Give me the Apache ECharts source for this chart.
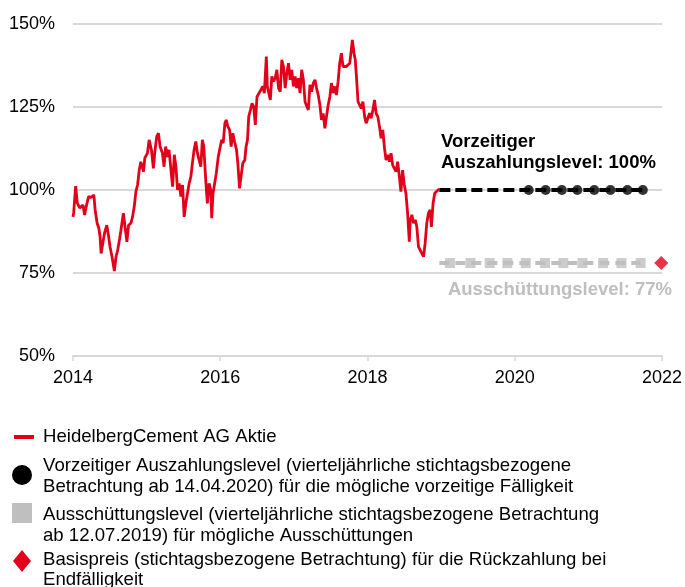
<!DOCTYPE html>
<html>
<head>
<meta charset="utf-8">
<script src="https://cdn.jsdelivr.net/npm/echarts@6/dist/echarts.min.js"></script>
<style>
  html, body { margin: 0; padding: 0; background: #fff; }
  #chart { width: 685px; height: 587px; }
</style>
</head>
<body>
<div id="chart"></div>
<script>
// Kursverlauf HeidelbergCement (in % vom Startwert), Zeit als Dezimaljahr
const priceDates = [
  2014.000, 2014.009, 2014.036, 2014.058, 2014.090, 2014.112, 2014.135, 2014.158, 2014.179, 2014.212,
  2014.247, 2014.283, 2014.301, 2014.328, 2014.351, 2014.368, 2014.382, 2014.405, 2014.428, 2014.459,
  2014.481, 2014.503, 2014.530, 2014.562, 2014.584, 2014.607, 2014.634, 2014.651, 2014.684, 2014.705,
  2014.732, 2014.755, 2014.786, 2014.809, 2014.832, 2014.854, 2014.877, 2014.900, 2014.921, 2014.958,
  2014.975, 2015.011, 2015.034, 2015.065, 2015.092, 2015.110, 2015.137, 2015.160, 2015.183, 2015.214,
  2015.237, 2015.258, 2015.281, 2015.304, 2015.331, 2015.353, 2015.376, 2015.398, 2015.420, 2015.443,
  2015.466, 2015.488, 2015.510, 2015.533, 2015.555, 2015.578, 2015.601, 2015.622, 2015.645, 2015.668,
  2015.690, 2015.713, 2015.736, 2015.757, 2015.776, 2015.803, 2015.825, 2015.848, 2015.871, 2015.884,
  2015.902, 2015.924, 2015.946, 2015.973, 2015.992, 2016.019, 2016.040, 2016.063, 2016.081, 2016.104,
  2016.127, 2016.148, 2016.171, 2016.194, 2016.221, 2016.239, 2016.262, 2016.283, 2016.306, 2016.333,
  2016.351, 2016.370, 2016.387, 2016.410, 2016.432, 2016.454, 2016.477, 2016.499, 2016.522, 2016.553,
  2016.576, 2016.599, 2016.626, 2016.639, 2016.680, 2016.701, 2016.724, 2016.747, 2016.769, 2016.792,
  2016.815, 2016.836, 2016.859, 2016.882, 2016.904, 2016.927, 2016.949, 2016.971, 2016.994, 2017.017,
  2017.038, 2017.061, 2017.084, 2017.106, 2017.129, 2017.152, 2017.173, 2017.196, 2017.219, 2017.241,
  2017.264, 2017.287, 2017.308, 2017.331, 2017.354, 2017.375, 2017.398, 2017.421, 2017.443, 2017.466,
  2017.489, 2017.510, 2017.533, 2017.556, 2017.578, 2017.601, 2017.623, 2017.645, 2017.668, 2017.691,
  2017.713, 2017.736, 2017.759, 2017.780, 2017.794, 2017.817, 2017.834, 2017.853, 2017.871, 2017.894,
  2017.915, 2017.938, 2017.961, 2017.982, 2018.005, 2018.028, 2018.050, 2018.073, 2018.096, 2018.117,
  2018.140, 2018.163, 2018.185, 2018.208, 2018.231, 2018.252, 2018.275, 2018.298, 2018.320, 2018.342,
  2018.365, 2018.387, 2018.410, 2018.433, 2018.454, 2018.477, 2018.500, 2018.522, 2018.545, 2018.568,
  2018.581, 2018.603, 2018.626, 2018.649, 2018.670, 2018.693, 2018.716, 2018.738, 2018.761, 2018.783,
  2018.805, 2018.828, 2018.851, 2018.868, 2018.891, 2018.913, 2018.940, 2018.959, 2018.976
];
const priceValues = [
  91.9, 93.1, 101.2, 96.1, 94.6, 94.0, 95.5, 92.5, 95.0, 98.0,
  97.8, 98.5, 94.0, 90.0, 88.5, 85.9, 80.9, 84.0, 87.0, 89.4,
  86.4, 82.9, 79.9, 75.6, 79.9, 81.9, 85.4, 87.9, 93.0, 93.5,
  84.4, 89.4, 90.0, 91.9, 95.0, 99.5, 101.5, 106.0, 108.5, 105.5,
  109.6, 111.1, 115.1, 112.1, 106.5, 111.1, 116.1, 117.1, 113.1, 111.1,
  107.0, 113.1, 110.0, 112.1, 111.6, 101.0, 110.6, 107.0, 100.0, 102.0,
  98.0, 101.5, 91.9, 96.0, 95.5, 102.0, 104.0, 108.1, 112.1, 114.6,
  111.1, 109.0, 107.0, 115.1, 113.1, 103.0, 96.0, 102.0, 100.0, 91.5,
  99.0, 102.0, 105.0, 110.0, 112.1, 115.1, 114.1, 120.1, 121.1, 119.1,
  118.1, 113.1, 117.1, 114.6, 112.1, 108.1, 100.5, 101.0, 108.1, 109.0,
  113.1, 115.1, 122.1, 124.1, 126.1, 125.1, 119.6, 128.1, 128.6, 130.2,
  131.2, 129.2, 140.2, 131.2, 127.1, 134.2, 132.7, 133.7, 136.2, 130.7,
  129.6, 139.2, 137.2, 130.7, 135.2, 138.2, 133.2, 136.2, 131.2, 134.2,
  130.7, 133.7, 129.2, 136.2, 133.2, 126.6, 127.1, 124.1, 131.7, 129.6,
  132.2, 133.2, 130.7, 128.6, 125.6, 121.1, 123.1, 118.6, 122.1, 125.6,
  128.1, 132.2, 129.2, 131.2, 128.6, 132.7, 138.2, 141.2, 137.2, 136.7,
  137.2, 137.7, 138.2, 142.2, 145.2, 141.2, 139.2, 133.2, 126.6, 127.1,
  124.6, 126.6, 122.1, 120.1, 120.6, 123.1, 121.6, 124.1, 127.1, 123.1,
  122.1, 119.1, 115.6, 118.1, 112.6, 109.0, 110.6, 108.5, 111.1, 107.5,
  108.1, 105.5, 108.5, 104.0, 99.5, 106.0, 101.5, 99.0, 93.0, 84.4,
  91.0, 92.5, 90.0, 91.0, 88.9, 82.9, 81.9, 80.9, 79.9, 83.9,
  90.0, 93.0, 94.0, 88.9, 96.0, 99.0, 98.5, 100.0, 100.2
];

// Vorzeitiger Auszahlungslevel
const autocallLevel = 100;
const autocallLineDates = [2018.976, 2021.74];
const autocallObsDates = [2020.19, 2020.42, 2020.64, 2020.85, 2021.08, 2021.30, 2021.53, 2021.74];

// Ausschüttungslevel
const couponLevel = 78;
const couponLineDates = [2018.976, 2021.71];
const couponObsDates = [2019.12, 2019.40, 2019.66, 2019.90, 2020.15, 2020.41, 2020.66, 2020.92, 2021.20, 2021.45, 2021.71];

// Basispreis
const strikeDates = [2021.99];
const strikeLevel = 78;

// Achsen
const yTicks = [50, 75, 100, 125, 150];
const xTicks = [2014, 2016, 2018, 2020, 2022];

const RED = '#e2001a';
const GREY = '#bfbfbf';
const FONT = 'Liberation Sans, Arial, sans-serif';

const chart = echarts.init(document.getElementById('chart'));

const level = (dates, v) => dates.map((d) => [d, v]);

chart.setOption({
  animation: false,
  textStyle: { fontFamily: FONT },
  grid: { left: 73, right: 19, top: 24, bottom: 231, containLabel: false },
  xAxis: {
    type: 'value',
    min: xTicks[0],
    max: xTicks[xTicks.length - 1],
    interval: 2,
    axisLine: { show: true, lineStyle: { color: '#d9d9d9', width: 2 } },
    axisTick: { show: true, length: 5, lineStyle: { color: '#d9d9d9', width: 1.5 } },
    axisLabel: { color: '#000', fontSize: 18, margin: 13, formatter: (v) => String(v) },
    splitLine: { show: false },
  },
  yAxis: {
    type: 'value',
    min: yTicks[0],
    max: yTicks[yTicks.length - 1],
    interval: 25,
    axisLine: { show: false },
    axisTick: { show: false },
    axisLabel: { color: '#000', fontSize: 18, margin: 18, formatter: '{value}%' },
    splitLine: { lineStyle: { color: '#d9d9d9', width: 2 } },
  },
  series: [
    {
      name: 'HeidelbergCement AG Aktie',
      type: 'line',
      data: priceDates.map((d, i) => [d, priceValues[i]]),
      showSymbol: false,
      lineStyle: { color: RED, width: 2.8 },
      z: 5,
    },
    {
      type: 'line',
      data: level(couponLineDates, couponLevel),
      showSymbol: false,
      lineStyle: { color: GREY, width: 4, type: [10, 6] },
    },
    {
      name: 'Ausschüttungslevel',
      type: 'scatter',
      data: level(couponObsDates, couponLevel),
      symbol: 'rect',
      symbolSize: 10,
      itemStyle: { color: GREY },
    },
    {
      type: 'line',
      data: level(autocallLineDates, autocallLevel),
      showSymbol: false,
      lineStyle: { color: '#000', width: 4, type: [11, 5] },
    },
    {
      name: 'Vorzeitiger Auszahlungslevel',
      type: 'scatter',
      data: level(autocallObsDates, autocallLevel),
      symbol: 'circle',
      symbolSize: 10,
      itemStyle: { color: '#000' },
    },
    {
      name: 'Basispreis',
      type: 'scatter',
      data: level(strikeDates, strikeLevel),
      symbol: 'diamond',
      symbolSize: 14,
      itemStyle: { color: RED },
      z: 6,
    },
  ],
  graphic: [
    // Beschriftungen im Chart
    {
      type: 'text', x: 441, y: 131,
      style: {
        text: 'Vorzeitiger\nAuszahlungslevel: 100%',
        font: 'bold 18.5px ' + FONT, fill: '#000', lineHeight: 21, verticalAlign: 'top',
      },
    },
    {
      type: 'text', x: 672, y: 280,
      style: {
        text: 'Ausschüttungslevel: 77%',
        font: 'bold 18.5px ' + FONT, fill: GREY, align: 'right', verticalAlign: 'top',
      },
    },
    // Legende
    { type: 'rect', shape: { x: 14, y: 435, width: 20, height: 4 }, style: { fill: RED } },
    {
      type: 'text', x: 43, y: 437,
      style: { text: 'HeidelbergCement AG Aktie', font: '18.6px ' + FONT, fill: '#000', verticalAlign: 'middle' },
    },
    { type: 'circle', shape: { cx: 22, cy: 475, r: 10 }, style: { fill: '#000' } },
    {
      type: 'text', x: 43, y: 476.5,
      style: {
        text: 'Vorzeitiger Auszahlungslevel (vierteljährliche stichtagsbezogene\nBetrachtung ab 14.04.2020) für die mögliche vorzeitige Fälligkeit',
        font: '18.6px ' + FONT, fill: '#000', lineHeight: 21, verticalAlign: 'middle',
      },
    },
    { type: 'rect', shape: { x: 12, y: 503, width: 20, height: 20 }, style: { fill: GREY } },
    {
      type: 'text', x: 43, y: 525.5,
      style: {
        text: 'Ausschüttungslevel (vierteljährliche stichtagsbezogene Betrachtung\nab 12.07.2019) für mögliche Ausschüttungen',
        font: '18.6px ' + FONT, fill: '#000', lineHeight: 21, verticalAlign: 'middle',
      },
    },
    { type: 'polygon', shape: { points: [[22, 550], [31, 561], [22, 572], [13, 561]] }, style: { fill: RED } },
    {
      type: 'text', x: 43, y: 570,
      style: {
        text: 'Basispreis (stichtagsbezogene Betrachtung) für die Rückzahlung bei\nEndfälligkeit',
        font: '18.6px ' + FONT, fill: '#000', lineHeight: 20, verticalAlign: 'middle',
      },
    },
  ],
});

window.addEventListener('resize', () => chart.resize());
</script>
</body>
</html>
